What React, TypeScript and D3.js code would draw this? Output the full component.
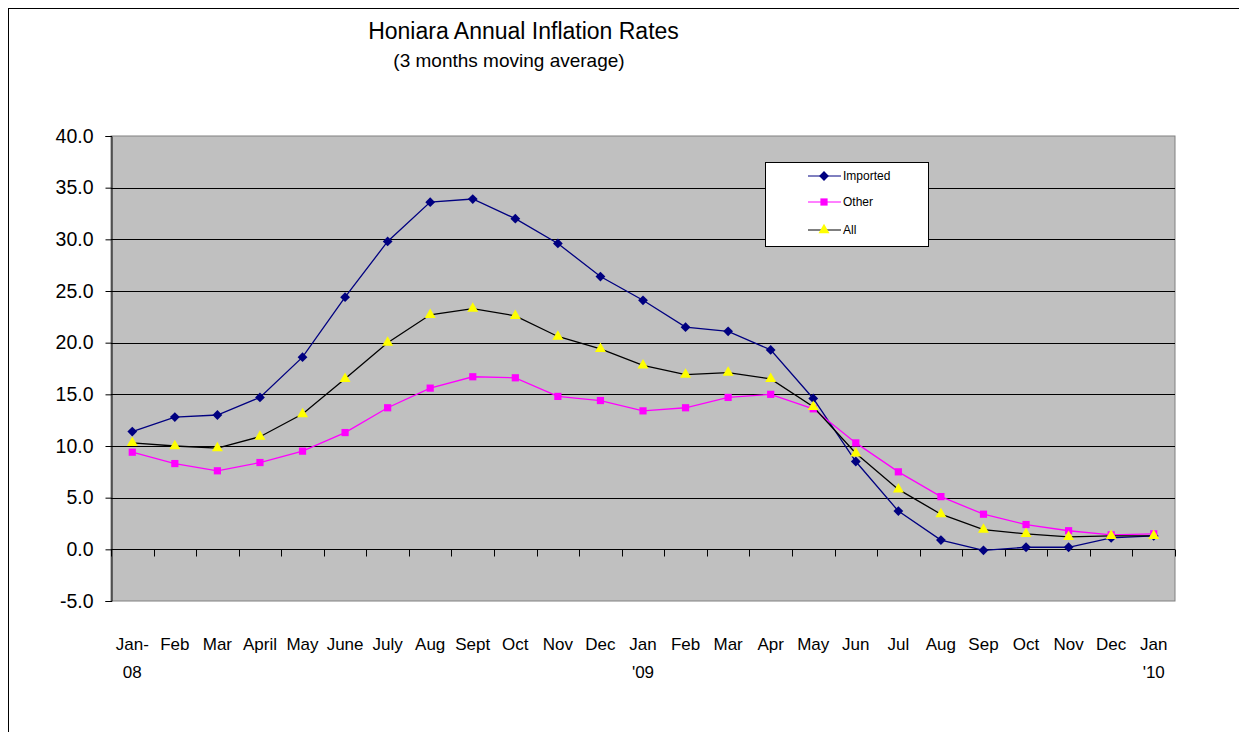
import React, { useEffect, useRef } from "react";
import * as d3 from "d3";

const months = ["Jan-|08", "Feb", "Mar", "April", "May", "June", "July", "Aug", "Sept", "Oct", "Nov", "Dec",
  "Jan|'09", "Feb", "Mar", "Apr", "May", "Jun", "Jul", "Aug", "Sep", "Oct", "Nov", "Dec", "Jan|'10"];

const imported = [11.4, 12.8, 13.0, 14.7, 18.6, 24.4, 29.8, 33.6, 33.9, 32.0, 29.6, 26.4,
  24.1, 21.5, 21.1, 19.3, 14.6, 8.5, 3.7, 0.9, -0.1, 0.2, 0.2, 1.1, 1.3];
const other = [9.4, 8.3, 7.6, 8.4, 9.5, 11.3, 13.7, 15.6, 16.7, 16.6, 14.8, 14.4,
  13.4, 13.7, 14.7, 15.0, 13.6, 10.3, 7.5, 5.1, 3.4, 2.4, 1.8, 1.4, 1.5];
const all = [10.3, 10.0, 9.8, 10.9, 13.1, 16.5, 20.0, 22.7, 23.3, 22.6, 20.6, 19.4,
  17.8, 16.9, 17.1, 16.5, 13.8, 9.3, 5.8, 3.4, 1.9, 1.5, 1.2, 1.3, 1.3];

const yTicks = [-5, 0, 5, 10, 15, 20, 25, 30, 35, 40];

// diamond = square turned 45 degrees
const series = [
  { name: "Imported", values: imported, line: "#000080", fill: "#000080", shape: d3.symbolSquare, size: 48, rot: 45 },
  { name: "Other", values: other, line: "#FF00FF", fill: "#FF00FF", shape: d3.symbolSquare, size: 52, rot: 0 },
  { name: "All", values: all, line: "#000000", fill: "#FFFF00", shape: d3.symbolTriangle, size: 52, rot: 0 },
];

export default function App() {
  const ref = useRef<SVGSVGElement>(null);

  useEffect(() => {
    const svg = d3.select(ref.current);
    svg.selectAll("*").remove();
    const W = 1239, H = 732;
    const m = { left: 111, right: 1175, top: 136, bottom: 601 };
    const font = "Liberation Sans, Arial, sans-serif";

    // outer chart frame
    svg.append("rect").attr("x", 8.5).attr("y", 8.5).attr("width", W + 20).attr("height", H + 20)
      .attr("fill", "white").attr("stroke", "black");

    svg.append("text").attr("x", 523.5).attr("y", 39).attr("text-anchor", "middle")
      .style("font-family", font).style("font-size", "23px").text("Honiara Annual Inflation Rates");
    svg.append("text").attr("x", 509).attr("y", 67).attr("text-anchor", "middle")
      .style("font-family", font).style("font-size", "19px").text("(3 months moving average)");

    const x = d3.scaleBand().domain(d3.range(months.length).map(String)).range([m.left, m.right]);
    const y = d3.scaleLinear().domain([-5, 40]).range([m.bottom, m.top]);
    const cx = (i: number) => (x(String(i)) as number) + x.bandwidth() / 2;

    svg.append("rect").attr("x", m.left).attr("y", m.top).attr("width", m.right - m.left)
      .attr("height", m.bottom - m.top).attr("fill", "#C0C0C0").attr("stroke", "#808080");

    // gridlines
    svg.append("g").selectAll("line").data(yTicks.filter(t => t > -5 && t < 40)).join("line")
      .attr("x1", m.left).attr("x2", m.right)
      .attr("y1", d => Math.round(y(d)) + 0.5).attr("y2", d => Math.round(y(d)) + 0.5)
      .attr("stroke", "black");

    // y axis
    const yAxis = svg.append("g").attr("transform", `translate(${m.left + 0.5},0)`)
      .call(d3.axisLeft(y).tickValues(yTicks).tickSize(6).tickPadding(12).tickFormat(d => (+d).toFixed(1)));
    yAxis.select(".domain").attr("stroke", "black");
    yAxis.selectAll("text").style("font-family", font).style("font-size", "19.5px").attr("fill", "black");

    // x axis on zero line, ticks between categories
    const y0 = Math.round(y(0)) + 0.5;
    svg.append("line").attr("x1", m.left).attr("x2", m.right).attr("y1", y0).attr("y2", y0).attr("stroke", "black");
    svg.append("g").selectAll("line").data(d3.range(months.length + 1)).join("line")
      .attr("x1", i => Math.round(m.left + i * x.step()) + 0.5)
      .attr("x2", i => Math.round(m.left + i * x.step()) + 0.5)
      .attr("y1", y0).attr("y2", y0 + 7).attr("stroke", "black");

    const lbl = svg.append("g").selectAll("text").data(months).join("text")
      .attr("text-anchor", "middle").style("font-family", font).style("font-size", "17px");
    lbl.each(function (d, i) {
      d.split("|").forEach((p, k) => {
        d3.select(this).append("tspan").attr("x", cx(i)).attr("y", 650 + k * 28).text(p);
      });
    });

    // lines and markers
    const line = d3.line<number>().x((_, i) => cx(i)).y(d => y(d));
    series.forEach(s => {
      svg.append("path").datum(s.values).attr("d", line).attr("fill", "none")
        .attr("stroke", s.line).attr("stroke-width", 1.3);
    });
    series.forEach(s => {
      svg.append("g").selectAll("path").data(s.values).join("path")
        .attr("d", d3.symbol().type(s.shape).size(s.size)())
        .attr("transform", (d, i) => `translate(${cx(i)},${y(d)}) rotate(${s.rot})`)
        .attr("fill", s.fill);
    });

    // legend
    const lg = svg.append("g");
    lg.append("rect").attr("x", 765.5).attr("y", 162.5).attr("width", 163).attr("height", 84)
      .attr("fill", "white").attr("stroke", "black");
    series.forEach((s, k) => {
      const ly = [176, 202, 230][k];
      lg.append("line").attr("x1", 808).attr("x2", 841).attr("y1", ly).attr("y2", ly).attr("stroke", s.line);
      lg.append("path").attr("d", d3.symbol().type(s.shape).size(s.size)())
        .attr("transform", `translate(824,${ly}) rotate(${s.rot})`).attr("fill", s.fill);
      lg.append("text").attr("x", 843).attr("y", ly + 4).style("font-family", font).style("font-size", "12px")
        .text(s.name);
    });
  }, []);

  return (
    <svg ref={ref} width={1239} height={732}
      style={{ position: "absolute", left: 0, top: 0, background: "white" }} />
  );
}
